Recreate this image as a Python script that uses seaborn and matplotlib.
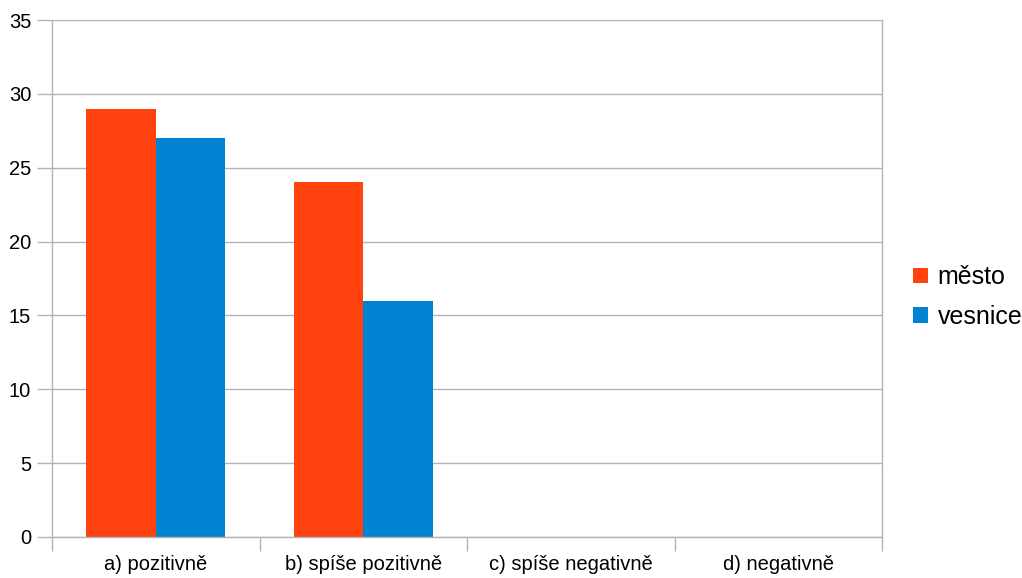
import matplotlib
matplotlib.use("Agg")
import matplotlib.pyplot as plt
import seaborn as sns
import pandas as pd
from matplotlib.patches import Patch

categories = ["a) pozitivně", "b) spíše pozitivně", "c) spíše negativně", "d) negativně"]
series_names = ["město", "vesnice"]
mesto = [29, 24, 0, 0]
vesnice = [27, 16, 0, 0]
colors = ["#FF420E", "#0084D1"]

df = pd.DataFrame({
    "kategorie": categories * 2,
    "skupina": [series_names[0]] * 4 + [series_names[1]] * 4,
    "hodnota": mesto + vesnice,
})

sns.set_theme(style="white")
plt.rcParams["font.family"] = ["Liberation Sans", "DejaVu Sans"]

fig = plt.figure(figsize=(10.22, 5.78), dpi=100)
ax = fig.add_axes([52/1022, 41/578, 830/1022, 517/578])

sns.barplot(data=df, x="kategorie", y="hodnota", hue="skupina",
            palette=colors, width=0.67, saturation=1, ax=ax, legend=False,
            linewidth=0)

ax.set_ylim(0, 35)
ax.set_xlim(-0.5, 3.5)
ax.set_yticks(range(0, 36, 5))
ax.yaxis.grid(True, color="#b3b3b3", linewidth=1)
ax.set_axisbelow(True)
ax.set_xlabel("")
ax.set_ylabel("")
for s in ax.spines.values():
    s.set_color("#b3b3b3")
    s.set_linewidth(1)
ax.spines["top"].set_visible(False)

ax.set_xticks([-0.5, 0.5, 1.5, 2.5, 3.5])
ax.set_xticklabels([])
ax.set_xticks([0, 1, 2, 3], minor=True)
ax.set_xticklabels(categories, minor=True, fontsize=14.5)
ax.tick_params(axis="x", which="major", length=10, color="#b3b3b3", width=1, bottom=True)
ax.tick_params(axis="x", which="minor", length=0, pad=13, bottom=True, labelcolor="black")
ax.tick_params(axis="y", length=11, color="#b3b3b3", width=1, labelsize=14.5, left=True, pad=4,
               labelcolor="black")

handles = [Patch(facecolor=c, edgecolor="none") for c in colors]
fig.legend(handles, series_names, loc="center left", bbox_to_anchor=(0.893, 0.486),
           frameon=False, fontsize=18, handlelength=0.6, handleheight=0.6,
           handletextpad=0.4, labelspacing=0.62, borderpad=0, borderaxespad=0,
           labelcolor="black")

fig.savefig("out.png", dpi=100)
